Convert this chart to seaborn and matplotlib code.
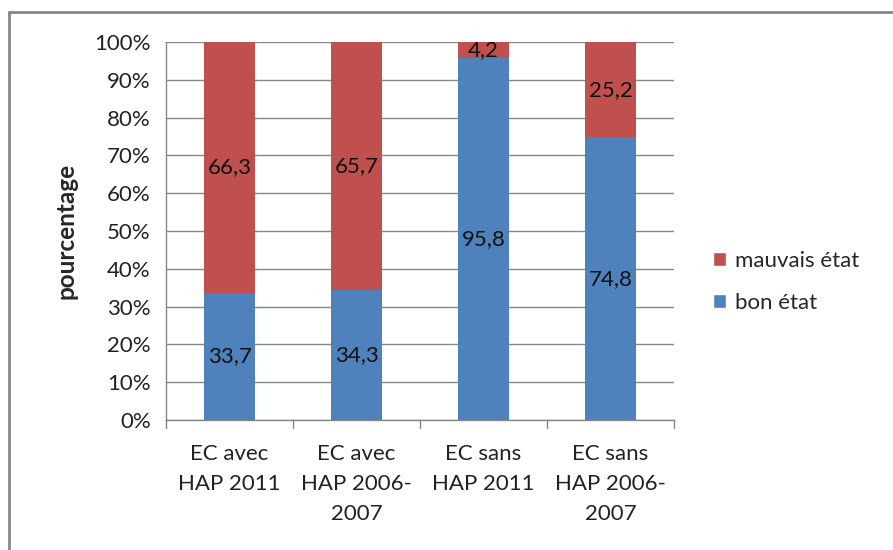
import numpy as np
import pandas as pd
import matplotlib
matplotlib.use("Agg")
import matplotlib.pyplot as plt
import seaborn as sns
from matplotlib.lines import Line2D
from matplotlib.patches import Patch

# data
categories = ["EC avec\nHAP 2011", "EC avec\nHAP 2006-\n2007", "EC sans\nHAP 2011", "EC sans\nHAP 2006-\n2007"]
bon_etat = [33.7, 34.3, 95.8, 74.8]
mauvais_etat = [66.3, 65.7, 4.2, 25.2]
yticks = [0, 10, 20, 30, 40, 50, 60, 70, 80, 90, 100]

blue = "#4F81BD"
red = "#C0504D"
grid_col = "#868686"

df = pd.DataFrame({"cat": categories, "bon": bon_etat, "mauvais": mauvais_etat})
df["total"] = df["bon"] + df["mauvais"]

sns.set_style("white")
plt.rcParams["font.family"] = ["Lato", "DejaVu Sans"]
fs = 16

fig = plt.figure(figsize=(8.93, 5.5), dpi=100)
ax = fig.add_axes([166 / 893, 130 / 550, (674 - 166) / 893, (420 - 42) / 550])

# stacked: red full-height bar underneath, blue bar on top of it
sns.barplot(data=df, x="cat", y="total", color=red, width=0.4, saturation=1, linewidth=0, ax=ax, zorder=2)
sns.barplot(data=df, x="cat", y="bon", color=blue, width=0.4, saturation=1, linewidth=0, ax=ax, zorder=3)

for i, (b, m) in enumerate(zip(bon_etat, mauvais_etat)):
    ax.text(i, b / 2, f"{b:.1f}".replace(".", ","), ha="center", va="center", fontsize=fs, color="#111111", zorder=4)
    ax.text(i, b + m / 2, f"{m:.1f}".replace(".", ","), ha="center", va="center", fontsize=fs, color="#111111", zorder=4)

ax.set_xlim(-0.5, len(categories) - 0.5)
ax.set_ylim(0, 100)
ax.set_yticks(yticks)
ax.set_yticklabels([f"{t}%" for t in yticks], fontsize=fs, color="#222222")
ax.yaxis.grid(True, color=grid_col, linewidth=1, zorder=0)
ax.set_axisbelow(True)

ax.set_xticks(np.arange(len(categories)))
ax.set_xticklabels(categories, fontsize=fs, linespacing=1.65, color="#222222")
ax.tick_params(axis="x", length=0, pad=17)
# category boundary ticks
for xb in np.arange(-0.5, len(categories), 1.0):
    ax.plot([xb, xb], [0, -2], color=grid_col, lw=1, clip_on=False)
ax.tick_params(axis="y", length=6, color=grid_col, width=1, direction="out", pad=5)

ax.set_xlabel("")
ax.set_ylabel("pourcentage", fontsize=17.5, fontweight="bold", labelpad=12)

for s in ["top", "right"]:
    ax.spines[s].set_visible(False)
for s in ["left", "bottom"]:
    ax.spines[s].set_color(grid_col)
    ax.spines[s].set_linewidth(1)

handles = [Patch(facecolor=red, label="mauvais état"), Patch(facecolor=blue, label="bon état")]
fig.legend(handles=handles, loc="center left", bbox_to_anchor=(693 / 893, 1 - 282 / 550),
           frameon=False, fontsize=fs, handlelength=0.6, handleheight=0.6,
           handletextpad=0.4, labelspacing=1.0)

# outer chart border (only left and top visible)
fig.add_artist(Line2D([9 / 893, 9 / 893], [0, 1 - 12 / 550], color=grid_col, lw=2, transform=fig.transFigure))
fig.add_artist(Line2D([9 / 893, 1], [1 - 12 / 550, 1 - 12 / 550], color=grid_col, lw=2, transform=fig.transFigure))

fig.savefig("out.png", dpi=100)
